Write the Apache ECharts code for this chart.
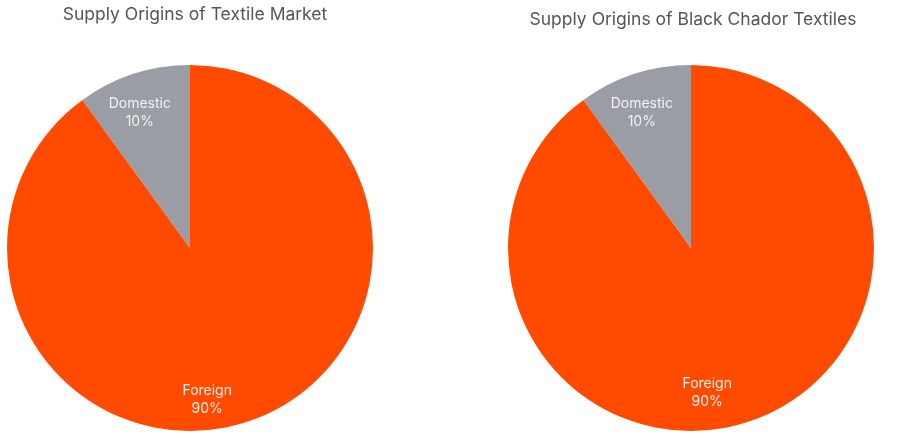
<!DOCTYPE html>
<html><head><meta charset="utf-8">
<script src="https://cdn.jsdelivr.net/npm/echarts@6/dist/echarts.min.js"></script>
<style>html,body{margin:0;padding:0;background:#fff}#c{width:900px;height:439px}</style>
</head><body><div id="c"></div>
<script>
var titles = ['Supply Origins of Textile Market', 'Supply Origins of Black Chador Textiles'];
var categories = ['Foreign', 'Domestic'];
var marketValues = [90, 10];
var chadorValues = [90, 10];
var colors = ['#FF4A00', '#9A9DA3'];

var chart = echarts.init(document.getElementById('c'));
function mkData(vals, offs) {
  return categories.map(function (c, i) {
    return { name: c, value: vals[i], itemStyle: { color: colors[i] }, label: { offset: offs[i] } };
  });
}
var labelStyle = {
  show: true, position: 'inside', color: '#f2f2f2', fontSize: 14, lineHeight: 18,
  fontFamily: 'Inter', formatter: function (p) { return p.name + '\n' + p.value + '%'; }
};
chart.setOption({
  animation: false,
  title: [
    { text: titles[0], left: 190, top: 1, textAlign: 'center',
      textStyle: { fontSize: 17.5, fontWeight: 'normal', color: '#555', fontFamily: 'Inter' } },
    { text: titles[1], left: 688, top: 6, textAlign: 'center',
      textStyle: { fontSize: 17.5, fontWeight: 'normal', color: '#555', fontFamily: 'Inter' } }
  ],
  series: [
    { type: 'pie', center: [190, 248], radius: 183, startAngle: 90, clockwise: true,
      label: labelStyle, labelLine: { show: false }, emphasis: { disabled: true },
      data: mkData(marketValues, [[-12, 62], [-21, -45]]) },
    { type: 'pie', center: [691, 248], radius: 183, startAngle: 90, clockwise: true,
      label: labelStyle, labelLine: { show: false }, emphasis: { disabled: true },
      data: mkData(chadorValues, [[-13, 55], [-20, -45]]) }
  ]
});
</script></body></html>
